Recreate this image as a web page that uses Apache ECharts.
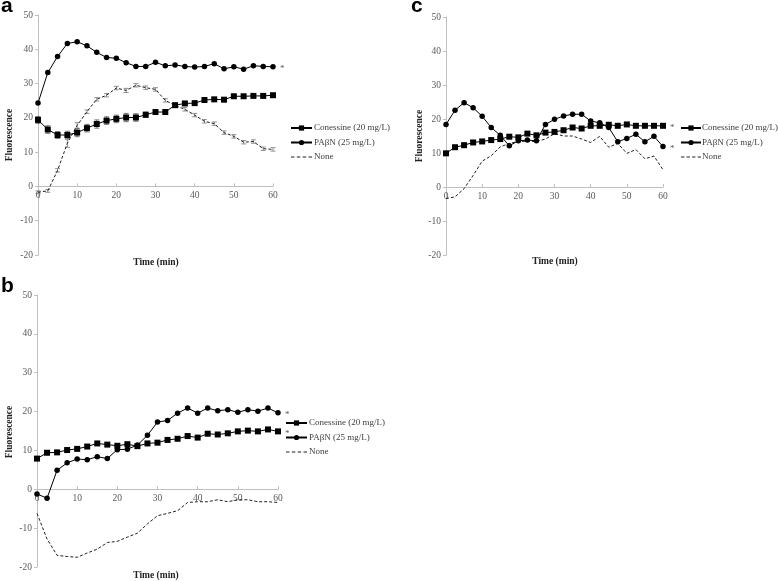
<!DOCTYPE html>
<html>
<head>
<meta charset="utf-8">
<script src="https://cdn.jsdelivr.net/npm/echarts@6/dist/echarts.min.js"></script>
<style>
html,body{margin:0;padding:0;background:#fff;}
#chart{width:778px;height:581px;}
</style>
</head>
<body>
<div id="chart"></div>
<script>
// ---- data ----
const times = [0,2.5,5,7.5,10,12.5,15,17.5,20,22.5,25,27.5,30,32.5,35,37.5,40,42.5,45,47.5,50,52.5,55,57.5,60];
const xTicks = [0,10,20,30,40,50,60];
const yTicks = [-20,-10,0,10,20,30,40,50];
const seriesNames = ['Conessine (20 mg/L)', 'PAβN (25 mg/L)', 'None'];

// panel a
const aConessine = [19.4,16.6,15.0,15.0,15.7,17.0,18.2,19.2,19.7,20.1,20.1,20.9,21.7,21.7,23.7,24.2,24.3,25.2,25.4,25.3,26.3,26.3,26.4,26.4,26.6];
const aPabn = [24.3,33.2,37.9,41.7,42.2,41.0,39.1,37.6,37.4,36.1,35.0,35.0,36.2,35.2,35.4,35.0,34.8,35.0,35.8,34.3,34.9,34.2,35.2,35.0,34.9];
const aNone = [-1.7,-1.3,4.7,12.6,17.8,21.8,25.4,26.6,28.7,28.0,29.5,28.8,28.3,25.1,23.6,22.5,20.8,19.0,18.3,15.7,14.6,12.9,13.1,11.0,10.8];
const aConessineErr = [1.0,1.1,1.0,1.1,1.2,1.1,1.2,1.1,1.1,1.2,1.1,0.8,0.6,0.6,0.5,0.5,0.5,0.5,0.5,0.5,0.5,0.5,0.5,0.5,0.5];
const aNoneErr = [0.4,0.4,0.5,1.2,0.8,0.5,0.5,0.5,0.5,0.6,0.5,0.5,0.5,0.5,0.5,0.5,0.5,0.5,0.5,0.5,0.5,0.5,0.5,0.5,0.5];

// panel b
const bConessine = [7.9,9.4,9.5,10.1,10.4,11.0,11.8,11.5,11.2,11.6,11.1,11.8,12.0,12.7,13.0,13.7,13.3,14.3,14.1,14.4,14.9,15.1,14.9,15.4,14.9];
const bPabn = [-1.2,-2.3,4.9,6.8,7.8,7.6,8.4,7.9,10.2,10.3,11.4,13.9,17.3,17.7,19.6,20.9,19.6,20.9,20.2,20.5,19.8,20.5,20.1,20.9,19.7];
const bNone = [-6.2,-12.8,-17.0,-17.3,-17.5,-16.4,-15.4,-13.7,-13.4,-12.3,-11.3,-8.9,-6.8,-6.2,-5.5,-3.4,-3.2,-3.2,-2.7,-3.2,-2.7,-2.7,-3.2,-3.2,-3.4];

// panel c
const cConessine = [9.9,11.7,12.3,13.1,13.4,13.8,14.1,14.8,14.6,15.7,15.2,16.0,16.2,16.7,17.5,17.2,18.0,18.0,18.3,18.0,18.4,18.0,18.0,18.0,18.0];
const cPabn = [18.4,22.6,24.8,23.3,20.8,17.5,15.2,12.1,13.6,13.8,13.6,18.4,19.9,20.9,21.4,21.4,19.4,18.9,17.5,13.3,14.3,15.5,13.3,14.9,11.9];
const cNone = [-3.4,-2.9,-0.5,3.4,7.6,9.2,11.8,12.8,13.4,13.4,13.4,14.1,15.7,15.0,15.0,14.1,13.1,14.9,11.7,12.8,9.9,11.0,8.3,9.1,5.1];

// significance marks
const aMarks = {con: false, pab: true};
const bMarks = {con: true, pab: true};
const cMarks = {con: true, pab: true};

// ---- styles ----
const SERIF = "'Liberation Serif','Times New Roman',serif";
const AXIS_C = '#bfbfbf';
const LABEL_C = '#595959';
const LINE_C = '#000';
const Y_MIN = yTicks[0], Y_MAX = yTicks[yTicks.length-1];
const DASH_ICON = 'path://M0,0h3v1h-3zM5,0h3v1h-3zM10,0h3v1h-3zM15,0h3v1h-3z';

const grids = [
  {left: 38, top: 15, width: 235, height: 240},
  {left: 37, top: 295, width: 241, height: 272},
  {left: 446, top: 17, width: 217, height: 238}
];

function pairs(vals){ return times.map((t,i)=>[t, vals[i]]); }

function mkX(i){
  // x axis crosses the value axis at 0
  const off = -grids[i].height * (0 - Y_MIN) / (Y_MAX - Y_MIN);
  return {
    gridIndex: i, type: 'value', position: 'bottom', offset: off,
    min: xTicks[0], max: xTicks[xTicks.length-1], interval: xTicks[1]-xTicks[0],
    axisLine: {onZero: false, lineStyle: {color: AXIS_C, width: 1}},
    axisTick: {show: true, inside: true, length: 3, lineStyle: {color: AXIS_C}},
    axisLabel: {fontFamily: SERIF, fontSize: 9.5, color: LABEL_C, margin: 4},
    splitLine: {show: false}
  };
}
function mkY(i){
  return {
    gridIndex: i, type: 'value', min: Y_MIN, max: Y_MAX, interval: yTicks[1]-yTicks[0],
    axisLine: {show: true, onZero: false, lineStyle: {color: AXIS_C, width: 1}},
    axisTick: {show: true, length: 3, lineStyle: {color: AXIS_C}},
    axisLabel: {fontFamily: SERIF, fontSize: 9.5, color: LABEL_C, margin: 5},
    splitLine: {show: false}
  };
}

function endMark(show){
  return show ? {show: true, formatter: '*', distance: 7, fontFamily: SERIF, fontSize: 9, color: LABEL_C, offset:[0,2]} : {show:false};
}

function panelSeries(i, con, pab, none, marks){
  return [
    {name: seriesNames[0], type: 'line', xAxisIndex: i, yAxisIndex: i, data: pairs(con),
     symbol: 'rect', symbolSize: 6, showSymbol: true,
     lineStyle: {color: LINE_C, width: 1}, itemStyle: {color: LINE_C},
     endLabel: endMark(marks.con), z: 3},
    {name: seriesNames[1], type: 'line', xAxisIndex: i, yAxisIndex: i, data: pairs(pab),
     symbol: 'circle', symbolSize: 5.5, showSymbol: true,
     lineStyle: {color: LINE_C, width: 1}, itemStyle: {color: LINE_C},
     endLabel: endMark(marks.pab), z: 3},
    {name: seriesNames[2], type: 'line', xAxisIndex: i, yAxisIndex: i, data: pairs(none),
     symbol: 'none', showSymbol: false,
     lineStyle: {color: '#222', width: 1, type: [3, 2]}, itemStyle: {color: '#222'}, z: 2}
  ];
}

function errSeries(i, vals, errs, color){
  return {
    type: 'custom', xAxisIndex: i, yAxisIndex: i, silent: true, z: 1,
    data: times.map((t,k)=>[t, vals[k]-errs[k], vals[k]+errs[k]]),
    renderItem: function(params, api){
      const p1 = api.coord([api.value(0), api.value(1)]);
      const p2 = api.coord([api.value(0), api.value(2)]);
      const w = 2.5;
      const st = {stroke: color, lineWidth: 0.8};
      return {type: 'group', children: [
        {type: 'line', shape: {x1: p1[0], y1: p1[1], x2: p2[0], y2: p2[1]}, style: st},
        {type: 'line', shape: {x1: p1[0]-w, y1: p1[1], x2: p1[0]+w, y2: p1[1]}, style: st},
        {type: 'line', shape: {x1: p2[0]-w, y1: p2[1], x2: p2[0]+w, y2: p2[1]}, style: st}
      ]};
    }
  };
}

function mkLegend(left, top, iw, pad){
  return {
    data: [{name: seriesNames[0]}, {name: seriesNames[1]}, {name: seriesNames[2], icon: DASH_ICON}],
    orient: 'vertical', left: left, top: top,
    selectedMode: false, itemWidth: iw, itemHeight: 6.5, itemGap: 4.5, symbolKeepAspect: true,
    textStyle: {fontFamily: SERIF, fontSize: 9, color: '#404040', lineHeight: 10, padding: [0,0,0,pad]},
    padding: 0
  };
}

const series = [].concat(
  panelSeries(0, aConessine, aPabn, aNone, aMarks),
  [errSeries(0, aConessine, aConessineErr, '#555'), errSeries(0, aNone, aNoneErr, '#777')],
  panelSeries(1, bConessine, bPabn, bNone, bMarks),
  panelSeries(2, cConessine, cPabn, cNone, cMarks)
);

function txt(x, y, text, opts){
  return {type: 'text', x: x, y: y, style: Object.assign({text: text, fill: '#000', align: 'center', verticalAlign: 'middle'}, opts || {})};
}
const titleStyle = {font: "bold 9.5px 'Liberation Serif','Times New Roman',serif", fill: '#222'};
const panelStyle = {font: "bold 21px 'Liberation Sans',Arial,sans-serif", fill: '#000', align: 'left', verticalAlign: 'middle'};

const graphic = [
  txt(1, 6, 'a', panelStyle),
  txt(1, 286, 'b', panelStyle),
  txt(411, 6, 'c', panelStyle),
  txt(156, 263, 'Time (min)', titleStyle),
  txt(156, 576, 'Time (min)', titleStyle),
  txt(555, 262, 'Time (min)', titleStyle),
  Object.assign(txt(10, 135, 'Fluorescence', titleStyle), {rotation: Math.PI/2}),
  Object.assign(txt(10, 432, 'Fluorescence', titleStyle), {rotation: Math.PI/2}),
  Object.assign(txt(420, 136, 'Fluorescence', titleStyle), {rotation: Math.PI/2})
];

const chart = echarts.init(document.getElementById('chart'), null, {renderer: 'canvas'});
chart.setOption({
  backgroundColor: '#fff',
  animation: false,
  grid: grids,
  xAxis: [mkX(0), mkX(1), mkX(2)],
  yAxis: [mkY(0), mkY(1), mkY(2)],
  legend: [mkLegend(290, 123, 21, -3), mkLegend(285, 418, 21, -3), mkLegend(680, 123, 20, -4)],
  series: series,
  graphic: graphic
});
</script>
</body>
</html>
